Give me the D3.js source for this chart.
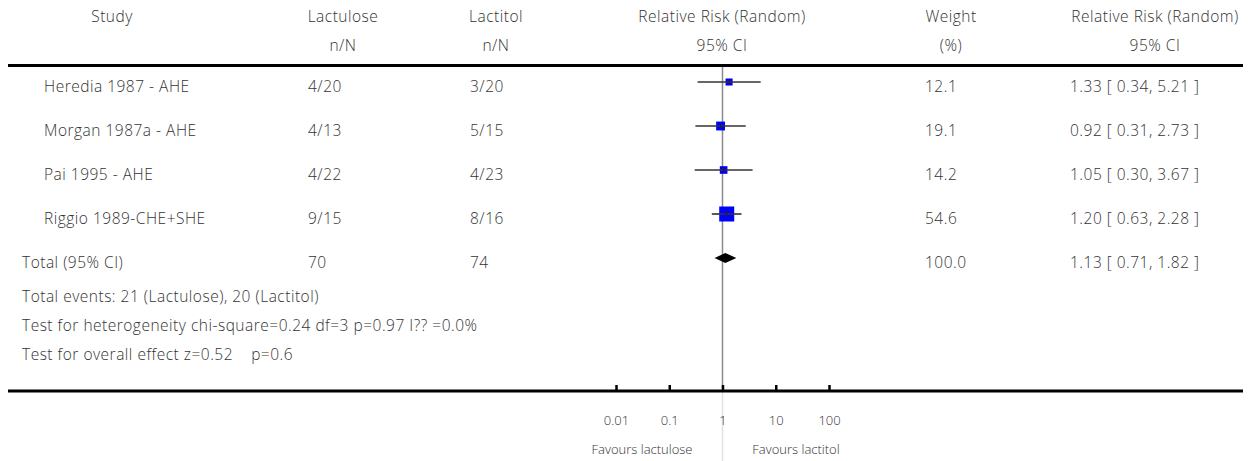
<!DOCTYPE html>
<html>
<head>
<meta charset="utf-8">
<script src="https://cdn.jsdelivr.net/npm/d3@7"></script>
<style>
  html, body { margin: 0; padding: 0; background: #fff; }
  svg text { font-family: "Open Sans", Lato, sans-serif; font-weight: 300; fill: #333; }
  svg text.body { letter-spacing: 0.5px; }
</style>
</head>
<body>
<svg id="chart" width="1252" height="461"></svg>
<script>
// Study-level data
const studies   = ["Heredia 1987 - AHE", "Morgan 1987a - AHE", "Pai 1995 - AHE", "Riggio 1989-CHE+SHE"];
const lactulose = ["4/20", "4/13", "4/22", "9/15"];
const lactitol  = ["3/20", "5/15", "4/23", "8/16"];
const weights   = [12.1, 19.1, 14.2, 54.6];
const rr        = [1.33, 0.92, 1.05, 1.20];
const ciLow     = [0.34, 0.31, 0.30, 0.63];
const ciHigh    = [5.21, 2.73, 3.67, 2.28];

// Pooled estimate
const totalLabel     = "Total (95% CI)";
const totalLactulose = "70";
const totalLactitol  = "74";
const totalWeight    = 100.0;
const totalRR        = 1.13;
const totalLow       = 0.71;
const totalHigh      = 1.82;

// Footnotes
const notes = [
  "Total events: 21 (Lactulose), 20 (Lactitol)",
  "Test for heterogeneity chi-square=0.24 df=3 p=0.97 I?? =0.0%",
  "Test for overall effect z=0.52\u00a0\u00a0\u00a0\u00a0p=0.6"
];

// Axis
const tickValues = [0.01, 0.1, 1, 10, 100];
const tickLabels = ["0.01", "0.1", "1", "10", "100"];
const favourLeft  = "Favours lactulose";
const favourRight = "Favours lactitol";

const svg = d3.select("#chart");
const FS = 15.5;

const x = d3.scaleLog().domain([0.01, 100]).range([616, 829]);
const y = d3.scaleLinear().domain([0, 4]).range([82, 258]);
const noteY = d3.scaleLinear().domain([0, 2]).range([302, 360]);

function label(g, px, py, txt, anchor) {
  return g.append("text").attr("class", "body")
    .attr("x", px).attr("y", py)
    .attr("text-anchor", anchor || "start")
    .attr("font-size", FS).text(txt);
}

// Column headers
const headers = [
  { x: 112,  l1: "Study",                  l2: "" },
  { x: 343,  l1: "Lactulose",              l2: "n/N" },
  { x: 496,  l1: "Lactitol",               l2: "n/N" },
  { x: 722,  l1: "Relative Risk (Random)", l2: "95% CI" },
  { x: 951,  l1: "Weight",                 l2: "(%)" },
  { x: 1155, l1: "Relative Risk (Random)", l2: "95% CI" }
];
const hg = svg.append("g");
headers.forEach(h => {
  label(hg, h.x, 22, h.l1, "middle");
  if (h.l2) label(hg, h.x, 51, h.l2, "middle");
});

// Top rule
svg.append("line").attr("x1", 8).attr("x2", 1243).attr("y1", 65.5).attr("y2", 65.5)
  .attr("stroke", "#000").attr("stroke-width", 3);

// Line of no effect
svg.append("line").attr("x1", x(1)).attr("x2", x(1)).attr("y1", 67).attr("y2", 391)
  .attr("stroke", "#8a8a8a").attr("stroke-width", 1.5);
svg.append("line").attr("x1", x(1)).attr("x2", x(1)).attr("y1", 391).attr("y2", 461)
  .attr("stroke", "#e2e2e2").attr("stroke-width", 1.5);

// Study rows
const rows = svg.append("g");
studies.forEach((s, i) => {
  const yy = y(i);
  const ty = yy + 10;
  label(rows, 44, ty, s);
  label(rows, 308, ty, lactulose[i]);
  label(rows, 470, ty, lactitol[i]);
  label(rows, 925, ty, weights[i].toFixed(1));
  label(rows, 1070, ty, `${rr[i].toFixed(2)} [ ${ciLow[i].toFixed(2)}, ${ciHigh[i].toFixed(2)} ]`);

  // marker area follows the study weight
  const side = 2.03 * Math.sqrt(weights[i]);
  rows.append("rect")
    .attr("x", x(rr[i]) - side / 2).attr("y", yy - side / 2)
    .attr("width", side).attr("height", side)
    .attr("fill", "#0000ff");
  rows.append("line")
    .attr("x1", x(ciLow[i])).attr("x2", x(ciHigh[i]))
    .attr("y1", yy).attr("y2", yy)
    .attr("stroke", "#333").attr("stroke-width", 1.6);
  rows.append("line")
    .attr("x1", x(rr[i])).attr("x2", x(rr[i]))
    .attr("y1", yy - 2.5).attr("y2", yy + 2.5)
    .attr("stroke", "#222").attr("stroke-width", 1.2);
});

// Pooled row
const ty4 = y(4) + 10;
label(rows, 22, ty4, totalLabel);
label(rows, 308, ty4, totalLactulose);
label(rows, 470, ty4, totalLactitol);
label(rows, 925, ty4, totalWeight.toFixed(1));
label(rows, 1070, ty4, `${totalRR.toFixed(2)} [ ${totalLow.toFixed(2)}, ${totalHigh.toFixed(2)} ]`);
const dy = y(4);
rows.append("path")
  .attr("d", `M${x(totalLow)},${dy} L${x(totalRR)},${dy - 5} L${x(totalHigh)},${dy} L${x(totalRR)},${dy + 5} Z`)
  .attr("fill", "#000");

// Footnotes
const ng = svg.append("g");
notes.forEach((n, i) => label(ng, 22, noteY(i), n));

// Bottom axis
svg.append("line").attr("x1", 8).attr("x2", 1243).attr("y1", 391).attr("y2", 391)
  .attr("stroke", "#000").attr("stroke-width", 3);
const axis = d3.axisBottom(x)
  .tickValues(tickValues)
  .tickFormat((d, i) => tickLabels[i])
  .tickSizeInner(-6).tickSizeOuter(0).tickPadding(25);
const ag = svg.append("g").attr("transform", "translate(0,391)").call(axis);
ag.select(".domain").remove();
ag.selectAll(".tick line").attr("stroke", "#000").attr("stroke-width", 2.5);
ag.selectAll(".tick text").attr("font-size", 13)
  .style("font-family", "'Open Sans', Lato, sans-serif").style("font-weight", 300).style("fill", "#333");

svg.append("text").attr("x", 642).attr("y", 454).attr("text-anchor", "middle")
  .attr("font-size", 13).text(favourLeft);
svg.append("text").attr("x", 796).attr("y", 454).attr("text-anchor", "middle")
  .attr("font-size", 13).text(favourRight);
</script>
</body>
</html>
